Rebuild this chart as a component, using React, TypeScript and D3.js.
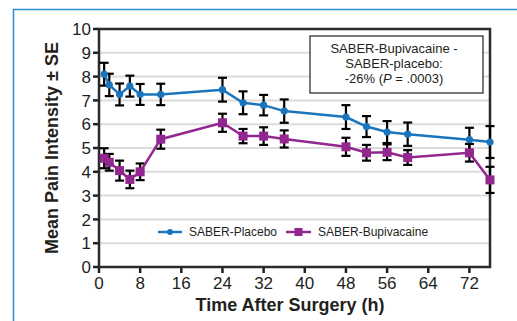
import * as d3 from "d3";

const hours = [1, 2, 4, 6, 8, 12, 24, 28, 32, 36, 48, 52, 56, 60, 72, 76];
const placebo = [8.1, 7.65, 7.25, 7.6, 7.25, 7.25, 7.45, 6.9, 6.8, 6.55, 6.3, 5.9, 5.67, 5.58, 5.35, 5.25];
const placeboSE = [0.48, 0.47, 0.46, 0.44, 0.44, 0.45, 0.5, 0.48, 0.43, 0.49, 0.5, 0.44, 0.46, 0.49, 0.5, 0.67];
const bupi = [4.57, 4.4, 4.05, 3.68, 4.0, 5.37, 6.06, 5.5, 5.5, 5.38, 5.05, 4.8, 4.82, 4.6, 4.8, 3.66];
const bupiSE = [0.42, 0.35, 0.42, 0.37, 0.35, 0.4, 0.38, 0.3, 0.37, 0.36, 0.38, 0.33, 0.33, 0.31, 0.37, 0.55];
const xTicks = [0, 8, 16, 24, 32, 40, 48, 56, 64, 72];
const yTicks = [0, 1, 2, 3, 4, 5, 6, 7, 8, 9, 10];
const seriesNames = ["SABER-Placebo", "SABER-Bupivacaine"];

const width = 517;
const height = 321;
const marginLeft = 99;
const marginRight = 27;
const marginTop = 29;
const marginBottom = 54;

const blue = "#1b75bc";
const purple = "#92278f";
const ink = "#231f20";
const font = "Arial, 'Liberation Sans', sans-serif";

export default function App() {
  const x = d3.scaleLinear().domain([0, 76]).range([marginLeft, width - marginRight]);
  const y = d3.scaleLinear().domain([0, 10]).range([height - marginBottom, marginTop]);

  const line = d3
    .line<number>()
    .x((_, i) => x(hours[i]))
    .y((d) => y(d));

  const errorBars = (vals: number[], se: number[], key: string) =>
    vals.map((v, i) => {
      const cx = x(hours[i]);
      const top = y(v + se[i]);
      const bot = y(v - se[i]);
      return (
        <g key={key + i} stroke="#000" strokeWidth={2.2}>
          <line x1={cx} x2={cx} y1={top} y2={bot} />
          <line x1={cx - 4.5} x2={cx + 4.5} y1={top} y2={top} />
          <line x1={cx - 4.5} x2={cx + 4.5} y1={bot} y2={bot} />
        </g>
      );
    });

  const legendY = 232;
  const y0 = y(0);

  return (
    <svg
      width={width}
      height={height}
      style={{ position: "absolute", left: 0, top: 0, background: "#fff" }}
      fontFamily={font}
    >
      {/* outer frame */}
      <path d={`M13.5,${height}V9.5H${width}`} fill="none" stroke="#2e8bcf" strokeWidth={1.5} />

      {/* grid */}
      <g stroke="#dcdcdc" strokeWidth={2}>
        {yTicks.slice(1, -1).map((t) => (
          <line key={t} x1={x(0)} x2={x(76)} y1={y(t)} y2={y(t)} />
        ))}
      </g>

      {/* x axis ticks */}
      <g fontSize={17} fill={ink} textAnchor="middle">
        {xTicks.map((t) => (
          <g key={t}>
            <line x1={x(t)} x2={x(t)} y1={y0} y2={y0 + 6} stroke={ink} strokeWidth={2.5} />
            <text x={x(t)} y={y0 + 22}>{t}</text>
          </g>
        ))}
      </g>

      {/* y axis ticks */}
      <g fontSize={17} fill={ink} textAnchor="end">
        {yTicks.map((t) => (
          <g key={t}>
            <line x1={marginLeft - 6} x2={marginLeft} y1={y(t)} y2={y(t)} stroke={ink} strokeWidth={2.5} />
            <text x={marginLeft - 8} y={y(t)} dy="0.36em">{t}</text>
          </g>
        ))}
      </g>

      {/* plot border */}
      <rect
        x={x(0)}
        y={y(10)}
        width={x(76) - x(0)}
        height={y(0) - y(10)}
        fill="none"
        stroke="#2b2b2b"
        strokeWidth={2.5}
      />

      {errorBars(placebo, placeboSE, "p")}
      {errorBars(bupi, bupiSE, "b")}

      <path d={line(placebo) || undefined} fill="none" stroke={blue} strokeWidth={2.5} />
      <path d={line(bupi) || undefined} fill="none" stroke={purple} strokeWidth={2.5} />

      {placebo.map((v, i) => (
        <circle key={"pc" + i} cx={x(hours[i])} cy={y(v)} r={3.6} fill={blue} />
      ))}
      {bupi.map((v, i) => (
        <rect key={"bs" + i} x={x(hours[i]) - 4.5} y={y(v) - 4.5} width={9} height={9} fill={purple} />
      ))}

      {/* legend */}
      <g fontSize={12} fill={ink}>
        <line x1={158} x2={182} y1={legendY} y2={legendY} stroke={blue} strokeWidth={2.5} />
        <circle cx={170} cy={legendY} r={3} fill={blue} />
        <text x={189} y={legendY + 4}>{seriesNames[0]}</text>
        <line x1={286} x2={311} y1={legendY} y2={legendY} stroke={purple} strokeWidth={2.5} />
        <rect x={294.5} y={legendY - 4} width={8} height={8} fill={purple} />
        <text x={318} y={legendY + 4}>{seriesNames[1]}</text>
      </g>

      {/* annotation */}
      <rect x={310} y={36} width={173} height={57} fill="#fff" stroke="#231f20" strokeWidth={1.2} />
      <g fontSize={13} fill={ink} textAnchor="middle">
        <text x={394} y={53}>SABER-Bupivacaine -</text>
        <text x={394} y={68}>SABER-placebo:</text>
        <text x={394} y={83}>
          -26% (<tspan fontStyle="italic">P</tspan> = .0003)
        </text>
      </g>

      {/* axis titles */}
      <text x={290} y={311} textAnchor="middle" fontSize={18} fontWeight="bold" fill={ink}>
        Time After Surgery (h)
      </text>
      <text
        transform={`translate(58,${(y(0) + y(10)) / 2}) rotate(-90)`}
        textAnchor="middle"
        fontSize={18}
        fontWeight="bold"
        fill={ink}
      >
        Mean Pain Intensity ± SE
      </text>
    </svg>
  );
}
